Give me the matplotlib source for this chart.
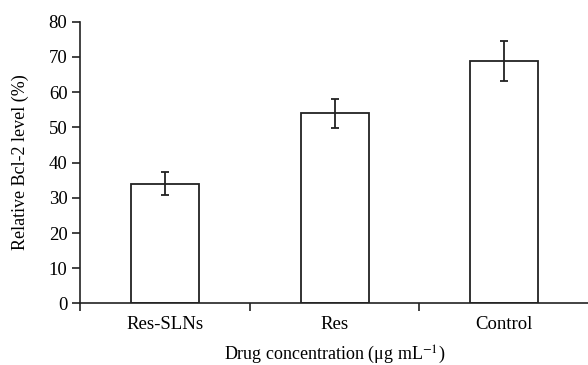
import numpy as np
import matplotlib
matplotlib.use("Agg")
import matplotlib.pyplot as plt

plt.rcParams['font.family'] = ['Liberation Serif', 'DejaVu Serif']
plt.rcParams['mathtext.fontset'] = 'stix'

# data
groups = ["Res-SLNs", "Res", "Control"]
bcl2_level = [34.0, 54.0, 68.8]
bcl2_err = [3.2, 4.2, 5.7]

fig = plt.figure(figsize=(5.88, 3.65), dpi=100)
ax = fig.add_axes([0.136, 0.1685, 0.866, 0.772])

x = np.arange(len(groups))
ax.bar(x, bcl2_level, width=0.4, color="white", edgecolor="#222222", linewidth=1.3,
       yerr=bcl2_err, capsize=3,
       error_kw=dict(ecolor="#222222", elinewidth=1.3, capthick=1.3))

ax.set_xlim(-0.5, len(groups) - 0.5)
ax.set_ylim(0, 80)
ax.set_yticks(np.arange(0, 81, 10))

# ticks at group boundaries, labels at group centres
ax.set_xticks(np.arange(-0.5, len(groups)), labels=[])
ax.set_xticks(x, labels=groups, minor=True)
ax.tick_params(axis="x", which="minor", length=0, pad=9, labelsize=13.5)
ax.tick_params(axis="x", which="major", length=6, width=1.2, color="#222222")
ax.tick_params(axis="y", length=6, width=1.2, color="#222222", labelsize=13.5, pad=3)

for side in ["top", "right"]:
    ax.spines[side].set_visible(False)
for side in ["left", "bottom"]:
    ax.spines[side].set_linewidth(1.2)
    ax.spines[side].set_color("#222222")

ax.set_ylabel("Relative Bcl-2 level (%)", fontsize=13, labelpad=14)
ax.set_xlabel(r"Drug concentration (μg mL$^{-1}$)", fontsize=13, labelpad=8)

fig.savefig("out.png", dpi=100)
